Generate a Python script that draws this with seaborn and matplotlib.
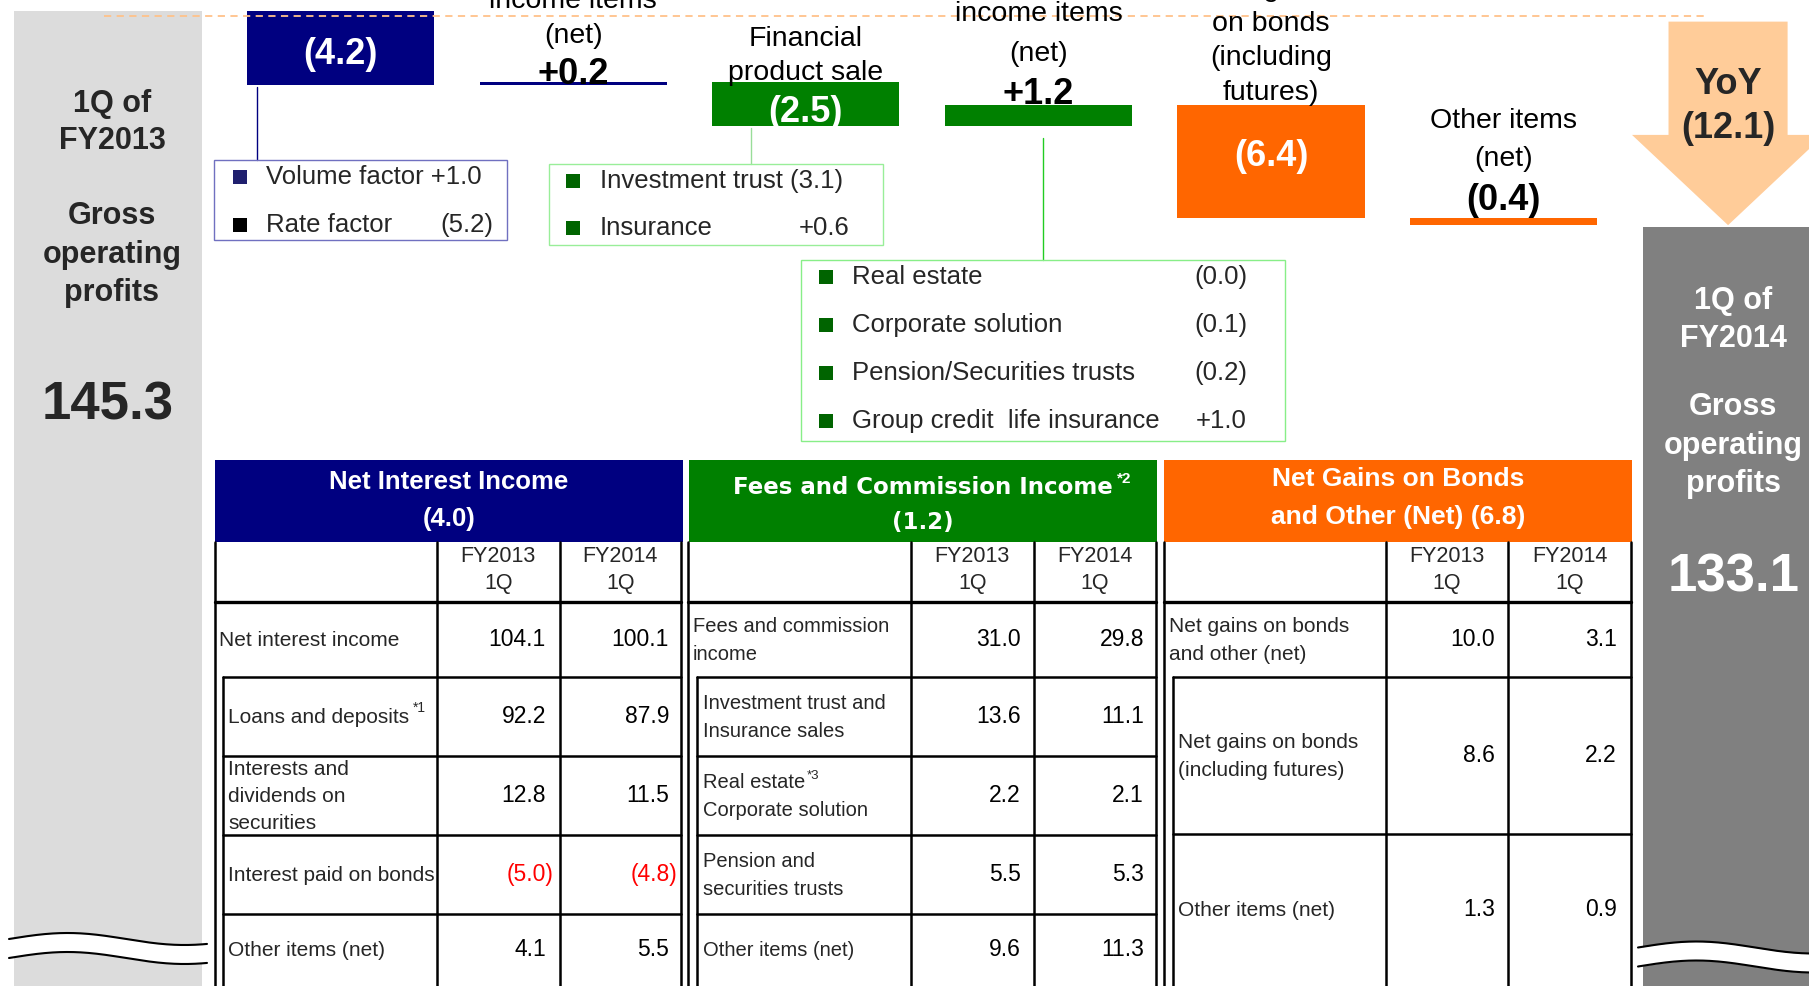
import numpy as np
import pandas as pd
import matplotlib
matplotlib.use("Agg")
import matplotlib.pyplot as plt
import seaborn as sns
from matplotlib.patches import Rectangle, Polygon

# ---------------- data ----------------
start_value = 145.3          # 1Q FY2013 gross operating profits
end_value = 133.1            # 1Q FY2014 gross operating profits
step_values = [-4.2, 0.2, -2.5, 1.2, -6.4, -0.4]
step_colors = ["#000080", "#000080", "#008000", "#008000", "#FF6600", "#FF6600"]
step_titles = [[],
               [("income items", 1), ("(net)", 36)],
               [("Financial", 39), ("product sale", 73)],
               [("income items", 14), ("(net)", 54)],
               [("Net gains", -11), ("on bonds", 24), ("(including", 58), ("futures)", 93)],
               [("Other items", 121), ("(net)", 159)]]
yoy_value = -12.1

start_panel = ["1Q of", "FY2013", "Gross", "operating", "profits"]
end_panel = ["1Q of", "FY2014", "Gross", "operating", "profits"]

factor_labels = ["Volume factor", "Rate factor"]
factor_values = [1.0, -5.2]
sales_labels = ["Investment trust", "Insurance"]
sales_values = [-3.1, 0.6]
fee_item_labels = ["Real estate", "Corporate solution", "Pension/Securities trusts",
                   "Group credit  life insurance"]
fee_item_values = [-0.0, -0.1, -0.2, 1.0]

col_headers = ["FY2013\n1Q", "FY2014\n1Q"]

nii_title = ["Net Interest Income", "(4.0)"]
nii_rows = ["Net interest income", "Loans and deposits", "Interests and\ndividends on\nsecurities",
            "Interest paid on bonds", "Other items (net)"]
nii_fy13 = [104.1, 92.2, 12.8, -5.0, 4.1]
nii_fy14 = [100.1, 87.9, 11.5, -4.8, 5.5]

fee_title = ["Fees and Commission Income", "(1.2)"]
fee_rows = ["Fees and commission\nincome", "Investment trust and\nInsurance sales",
            "Real estate\nCorporate solution", "Pension and\nsecurities trusts", "Other items (net)"]
fee_fy13 = [31.0, 13.6, 2.2, 5.5, 9.6]
fee_fy14 = [29.8, 11.1, 2.1, 5.3, 11.3]

bond_title = ["Net Gains on Bonds", "and Other (Net) (6.8)"]
bond_rows = ["Net gains on bonds\nand other (net)", "Net gains on bonds\n(including futures)",
             "Other items (net)"]
bond_fy13 = [10.0, 8.6, 1.3]
bond_fy14 = [3.1, 2.2, 0.9]

# ---------------- style ----------------
sns.set_theme(style="white")
plt.rcParams["font.family"] = ["Liberation Sans", "DejaVu Sans"]

W, H = 1809, 986
fig = plt.figure(figsize=(W / 100, H / 100), dpi=100)
fig.patch.set_facecolor("white")

axw = fig.add_axes([0, 0, 1, 1])   # value axes for the waterfall
ax = fig.add_axes([0, 0, 1, 1])    # pixel axes for annotations / tables
ax.set_zorder(2)
ax.patch.set_alpha(0)

PX_PER_UNIT = 17.7
TOP_PX = 11
SPACING = 232.6
X0 = 108
BAR_W = 0.804


def fmt(v, plus=False):
    if v < 0 or (v == 0 and np.signbit(v)):
        return f"({abs(v):.1f})"
    return f"+{v:.1f}" if plus else f"{v:.1f}"


def sbar(pos, height, bottom, color):
    sns.barplot(x=[pos], y=[height], bottom=bottom, color=color, native_scale=True,
                width=BAR_W, saturation=1, errorbar=None, linewidth=0,
                edgecolor="none", orient="x", ax=axw)


# totals
sbar(0, start_value, 0, "#DCDCDC")
sbar(len(step_values) + 1, end_value, 0, "#808080")
# steps
level = start_value
for i, (v, c) in enumerate(zip(step_values, step_colors)):
    new = level + v
    sbar(i + 1, abs(v), min(level, new), c)
    level = new

# dashed reference line at start level
axw.plot([-0.017, 6.866], [start_value - 0.3, start_value - 0.3], color="#FFC28A",
         lw=1.3, ls=(0, (4, 3)), zorder=1)

# YoY arrow
ac = len(step_values) + 1 - 0.035
shaft, head = 0.256, 0.413
top = start_value - 0.6
head_start = end_value + 5.2
arrow = Polygon([[ac - shaft, top], [ac + shaft, top], [ac + shaft, head_start],
                 [ac + head, head_start], [ac, end_value + 0.1], [ac - head, head_start],
                 [ac - shaft, head_start]], closed=True, facecolor="#FFCC99",
                edgecolor="none", zorder=3)
axw.add_patch(arrow)

axw.set_xlim(-X0 / SPACING, (W - X0) / SPACING)
axw.set_ylim(start_value - (H - TOP_PX) / PX_PER_UNIT, start_value + TOP_PX / PX_PER_UNIT)
axw.axis("off")

ax.set_xlim(0, W)
ax.set_ylim(H, 0)
ax.axis("off")

# ---------------- waterfall labels ----------------
centers = [X0 + SPACING * (i + 1) for i in range(len(step_values))]
value_y = [54, 75, 113, 94, 157, 201]
inside = [True, False, True, False, True, False]
for i, v in enumerate(step_values):
    cx = centers[i]
    for txt, y in step_titles[i]:
        ax.text(cx, y, txt, ha="center", va="center", fontsize=20.5, color="black")
    ax.text(cx, value_y[i], fmt(v, plus=True), ha="center", va="center", fontsize=26,
            fontweight="bold", color="white" if inside[i] else "black", zorder=5)

ax.text(1728, 84, "YoY", ha="center", va="center", fontsize=26, fontweight="bold")
ax.text(1728, 129, fmt(yoy_value), ha="center", va="center", fontsize=26, fontweight="bold")

# total panels
for txt, y in zip(start_panel, [104, 141, 216, 255, 293]):
    ax.text(112, y, txt, ha="center", va="center", fontsize=22, fontweight="bold")
ax.text(108, 406, f"{start_value:.1f}", ha="center", va="center", fontsize=38, fontweight="bold")
for txt, y in zip(end_panel, [301, 339, 407, 446, 484]):
    ax.text(1733, y, txt, ha="center", va="center", fontsize=22, fontweight="bold", color="white")
ax.text(1734, 578, f"{end_value:.1f}", ha="center", va="center", fontsize=38,
        fontweight="bold", color="white")


# break waves
def wave(x0, x1, y0):
    xs = np.linspace(x0, x1, 200)
    up = y0 - 6 * np.sin(2 * np.pi * (xs - x0) / 234)
    lo = up + 19
    ax.fill_between(xs, up, lo, color="white", zorder=4, lw=0)
    ax.plot(xs, up, color="black", lw=1.5, zorder=4)
    ax.plot(xs, lo, color="black", lw=1.5, zorder=4)


wave(9, 207, 939)
wave(1638, 1815, 947.5)


# ---------------- breakdown boxes ----------------
def box(x0, y0, x1, y1, ec):
    ax.add_patch(Rectangle((x0, y0), x1 - x0, y1 - y0, fill=False, ec=ec, lw=1.0, zorder=3))


def items(labels, values, ys, mx, tx, vx, mcolors):
    for k, (lab, v, y, mc) in enumerate(zip(labels, values, ys, mcolors)):
        ax.scatter([mx], [y], marker="s", s=105, color=mc, zorder=4, linewidths=0)
        if k == 0 and vx is not None:
            ax.text(tx, y, f"{lab} {fmt(v, plus=True)}", ha="left", va="center", fontsize=18.5)
        else:
            ax.text(tx, y, lab, ha="left", va="center", fontsize=18.5)
            ax.text(vx if vx is not None else 1247, y, fmt(v, plus=True), ha="right",
                    va="center", fontsize=18.5)


# leader lines
ax.plot([257, 257], [87, 160], color="#000080", lw=1.0)
ax.plot([751, 751], [128, 164], color="#99DD99", lw=1.0)
ax.plot([1043, 1043], [138, 260], color="#22CC22", lw=1.0)

box(214, 160, 507, 240, "#7070C0")
items(factor_labels, factor_values, [177, 225], 240, 266, 493, ["#1F1F6E", "black"])

box(549, 164, 883, 245, "#99EE99")
items(sales_labels, sales_values, [181, 228], 573, 600, 850, ["#006400"] * 2)

box(801, 260, 1285, 441, "#88EE88")
items(fee_item_labels, fee_item_values, [277, 325, 373, 421], 826, 852, None, ["#006400"] * 4)

# ---------------- tables ----------------
BAND_TOP, BAND_BOT, HDR_LINE = 460, 542, 602


def table(xb0, xb1, xl, c1, c2, xr, xin, title, title_y, title_kw, rows, row_lines,
          v13, v14, label_x, sub_x, val13_x, val14_x, label_fs, line_gap):
    ax.add_patch(Rectangle((xb0, BAND_TOP), xb1 - xb0, BAND_BOT - BAND_TOP,
                           facecolor=title_kw.pop("band"), edgecolor="none", zorder=2))
    tt = []
    for t, y in zip(title, title_y):
        tt.append(ax.text((xb0 + xb1) / 2, y, t, ha="center", va="center", color="white",
                          zorder=3, **title_kw))
    lw = 1.8
    for x in [xl, c1, c2, xr]:
        ax.plot([x, x], [BAND_BOT, H], color="black", lw=lw)
    ax.plot([xl, xr], [HDR_LINE, HDR_LINE], color="black", lw=2.4)
    ax.plot([xin, xin], [row_lines[1], H], color="black", lw=lw)
    for y in row_lines[1:-1]:
        ax.plot([xin, xr], [y, y], color="black", lw=lw)
    for j, hdr in enumerate(col_headers):
        cx = (c1 + c2) / 2 if j == 0 else (c2 + xr) / 2
        for k, line in enumerate(hdr.split("\n")):
            ax.text(cx, 556 + 28 * k, line, ha="center", va="center", fontsize=15.5)
    labels = []
    for r, lab in enumerate(rows):
        yc = (row_lines[r] + row_lines[r + 1]) / 2
        lx = label_x if r == 0 else sub_x
        lines = lab.split("\n")
        gap = line_gap if len(lines) < 3 else line_gap - 1.5
        row_texts = []
        for k, line in enumerate(lines):
            yl = yc + 1 + (k - (len(lines) - 1) / 2) * gap
            row_texts.append(ax.text(lx, yl, line, ha="left", va="center", fontsize=label_fs))
        labels.append(row_texts)
        for v, xv in [(v13[r], val13_x), (v14[r], val14_x)]:
            ax.text(xv + (8 if v < 0 else 0), yc, fmt(v), ha="right", va="center",
                    fontsize=16.5, color="#FF0000" if v < 0 else "black")
    return tt, labels


tt1, lab1 = table(214.6, 683, 214.6, 437, 559.5, 681, 223, nii_title, [482, 519],
                  dict(fontsize=18.5, fontweight="bold", band="#000080"), nii_rows,
                  [602, 677, 756, 835, 914, H], nii_fy13, nii_fy14, 219, 228, 546, 669, 15,
                  28.5)
ax.annotate("*1", xy=(1.0, 0.62), xycoords=lab1[1][0], xytext=(3, 0),
            textcoords="offset points", ha="left", va="bottom", fontsize=10)

tt2, lab2 = table(689, 1157, 688, 911, 1033.5, 1156, 697, fee_title, [487, 522],
                  dict(fontsize=16.5, fontweight="bold", band="#008000",
                       family=["DejaVu Sans"]), fee_rows,
                  [602, 677, 756, 835, 914, H], fee_fy13, fee_fy14, 693, 703, 1021, 1144, 14.5,
                  27.8)
ax.annotate("*2", xy=(1.0, 0.55), xycoords=tt2[0], xytext=(3, 0), textcoords="offset points",
            ha="left", va="bottom", fontsize=11, color="white", fontweight="bold")
ax.annotate("*3", xy=(1.0, 0.55), xycoords=lab2[2][0], xytext=(1, 0),
            textcoords="offset points", ha="left", va="bottom", fontsize=9.5)

tt3, lab3 = table(1164, 1632, 1164, 1386, 1508, 1631, 1173, bond_title, [479, 517],
                  dict(fontsize=19, fontweight="bold", band="#FF6600"), bond_rows,
                  [602, 677, 834, H], bond_fy13, bond_fy14, 1169, 1178, 1495, 1617, 15, 29)

fig.savefig("out.png", dpi=100, facecolor="white")
